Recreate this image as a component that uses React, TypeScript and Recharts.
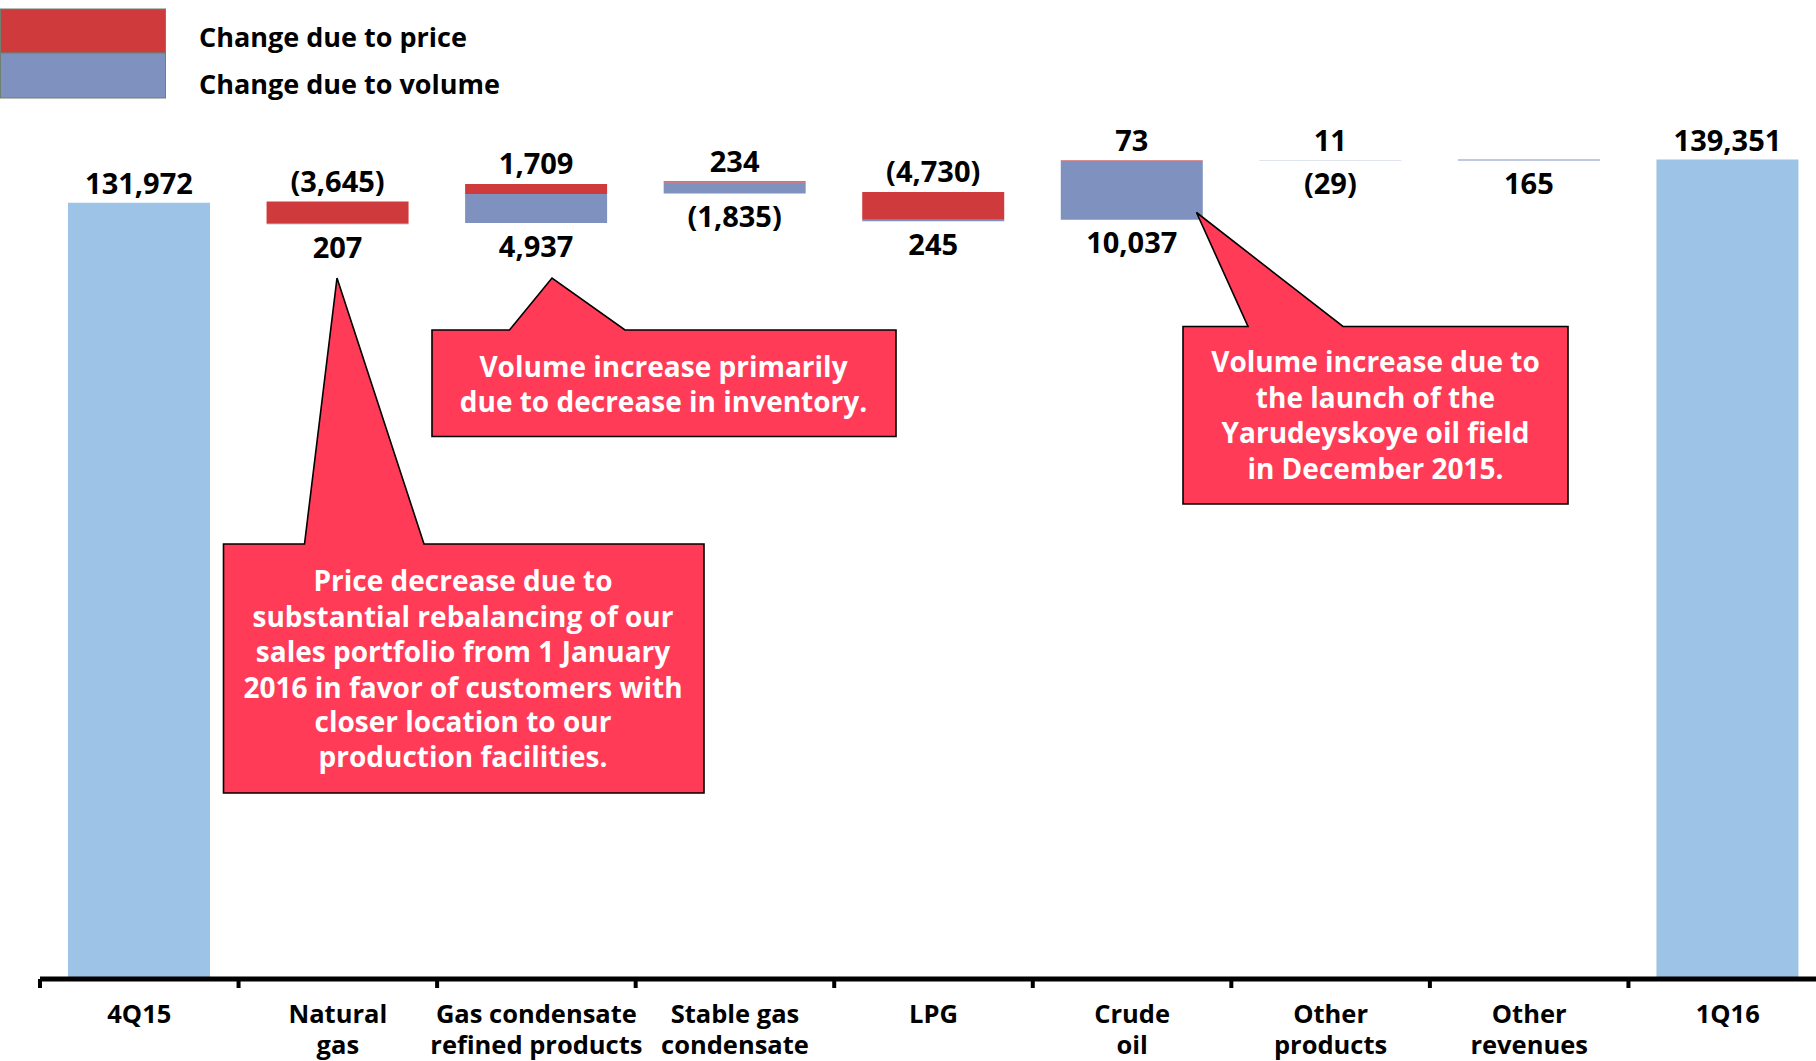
import { Bar, BarChart, LabelList, XAxis, YAxis } from "recharts";

const CATEGORIES = [
  "4Q15",
  "Natural\ngas",
  "Gas condensate\nrefined products",
  "Stable gas\ncondensate",
  "LPG",
  "Crude\noil",
  "Other\nproducts",
  "Other\nrevenues",
  "1Q16",
];
const TOTALS = [131972, null, null, null, null, null, null, null, 139351];
const PRICE_CHANGE = [null, -3645, 1709, 234, -4730, 73, 11, 0, null];
const VOLUME_CHANGE = [null, 207, 4937, -1835, 245, 10037, -29, 165, null];
const Y_DOMAIN = [0, 160000];

const RED = "#CF3A3C";
const BLUE = "#7F92BF";
const LIGHT = "#9DC3E6";
const CALLOUT = "#FF3B57";
const FONT = "'Open Sans', sans-serif";

const fmt = (v: number) => {
  const s = Math.abs(v).toLocaleString("en-US");
  return v < 0 ? `(${s})` : s;
};

// waterfall rows: invisible base, then volume (blue) and price (red) stacked on it
let level = 0;
const rows = CATEGORIES.map((name, i) => {
  const t = TOTALS[i];
  if (t != null) {
    level = t;
    return { name, total: t, totalLabel: fmt(t) };
  }
  const p = PRICE_CHANGE[i] as number;
  const v = VOLUME_CHANGE[i] as number;
  const base = Math.min(level, level + p, level + p + v);
  level += p + v;
  return {
    name,
    base,
    volume: Math.abs(v),
    price: Math.abs(p),
    priceLabel: p ? fmt(p) : "",
    volumeLabel: v ? fmt(v) : "",
  };
});

const above = (off: number) => (props: any) => {
  const { x, y, width, value } = props;
  if (!value) return null;
  return (
    <text x={x + width / 2} y={y - off} textAnchor="middle" dominantBaseline="central"
      fontFamily={FONT} fontWeight={700} fontSize={29} fill="#000">
      {value}
    </text>
  );
};

const below = (off: number) => (props: any) => {
  const { x, y, width, height, value } = props;
  if (!value) return null;
  return (
    <text x={x + width / 2} y={y + height + off} textAnchor="middle" dominantBaseline="central"
      fontFamily={FONT} fontWeight={700} fontSize={29} fill="#000">
      {value}
    </text>
  );
};

// category label plus the boundary tick on the left edge of its band
function CatTick({ x, y, payload }: any) {
  const lines = String(payload.value).split("\n");
  const half = payload.offset || 99.3;
  return (
    <g>
      <line x1={x - half} x2={x - half} y1={y} y2={y + 9} stroke="#000" strokeWidth={4} />
      {lines.map((l, i) => (
        <text key={i} x={x} y={y + 34 + i * 31} textAnchor="middle" dominantBaseline="central"
          fontFamily={FONT} fontWeight={700} fontSize={25.5} fill="#000">
          {l}
        </text>
      ))}
    </g>
  );
}

function Callout({ box, tip, base, lines, cx, ys }: {
  box: [number, number, number, number];
  tip: [number, number];
  base: [number, number];
  lines: string[];
  cx: number;
  ys: number[];
}) {
  const [l, t, r, b] = box;
  const d = `M${l},${t} L${base[0]},${t} L${tip[0]},${tip[1]} L${base[1]},${t} L${r},${t} L${r},${b} L${l},${b} Z`;
  return (
    <g>
      <path d={d} fill={CALLOUT} stroke="#000" strokeWidth={1.6} strokeLinejoin="miter" />
      {lines.map((s, i) => (
        <text key={i} x={cx} y={ys[i]} textAnchor="middle" dominantBaseline="central"
          fontFamily={FONT} fontWeight={700} fontSize={28} fill="#fff">
          {s}
        </text>
      ))}
    </g>
  );
}

export default function App() {
  return (
    <div style={{ position: "absolute", left: 0, top: 0, width: 1816, height: 1061, overflow: "hidden", background: "#fff" }}>
      <BarChart width={1827} height={1061} data={rows} barSize={142}
        margin={{ top: 38, right: 0, left: 40, bottom: 0 }}>
        <XAxis dataKey="name" interval={0} height={82}
          axisLine={{ stroke: "#000", strokeWidth: 5 }} tickLine={false}
          tickSize={0} tickMargin={0} tick={<CatTick />} />
        <YAxis hide domain={Y_DOMAIN} />
        <Bar dataKey="base" stackId="w" fill="transparent" isAnimationActive={false} />
        <Bar dataKey="volume" stackId="w" fill={BLUE} isAnimationActive={false}>
          <LabelList dataKey="volumeLabel" content={below(22)} />
        </Bar>
        <Bar dataKey="price" stackId="w" fill={RED} isAnimationActive={false}>
          <LabelList dataKey="priceLabel" content={above(21)} />
        </Bar>
        <Bar dataKey="total" stackId="w" fill={LIGHT} isAnimationActive={false}>
          <LabelList dataKey="totalLabel" content={above(20)} />
        </Bar>
      </BarChart>

      <svg width={1816} height={1061} style={{ position: "absolute", left: 0, top: 0, pointerEvents: "none" }}>
        <rect x={0.5} y={9} width={165} height={44} fill={RED} stroke="#6f7f70" strokeWidth={1} />
        <rect x={0.5} y={53} width={165} height={45} fill={BLUE} stroke="#6f7f70" strokeWidth={1} />
        <text x={199} y={36} dominantBaseline="central" fontFamily={FONT} fontWeight={700} fontSize={27}>
          Change due to price
        </text>
        <text x={199} y={83} dominantBaseline="central" fontFamily={FONT} fontWeight={700} fontSize={27}>
          Change due to volume
        </text>

        <Callout box={[223.5, 544, 704, 793]} tip={[337, 278]} base={[304.5, 424]} cx={463}
          ys={[580, 616, 651, 687, 721, 756]}
          lines={[
            "Price decrease due to",
            "substantial rebalancing of our",
            "sales portfolio from 1 January",
            "2016 in favor of customers with",
            "closer location to our",
            "production facilities.",
          ]} />
        <Callout box={[432, 330, 896, 436.5]} tip={[552, 278]} base={[509.5, 625]} cx={663.5}
          ys={[366, 401]}
          lines={["Volume increase primarily", "due to decrease in inventory."]} />
        <Callout box={[1183, 326.5, 1568, 504]} tip={[1196.5, 212.5]} base={[1248, 1343]} cx={1375.5}
          ys={[361, 397, 432, 468]}
          lines={["Volume increase due to", "the launch of the", "Yarudeyskoye oil field", "in December 2015."]} />
      </svg>
    </div>
  );
}
